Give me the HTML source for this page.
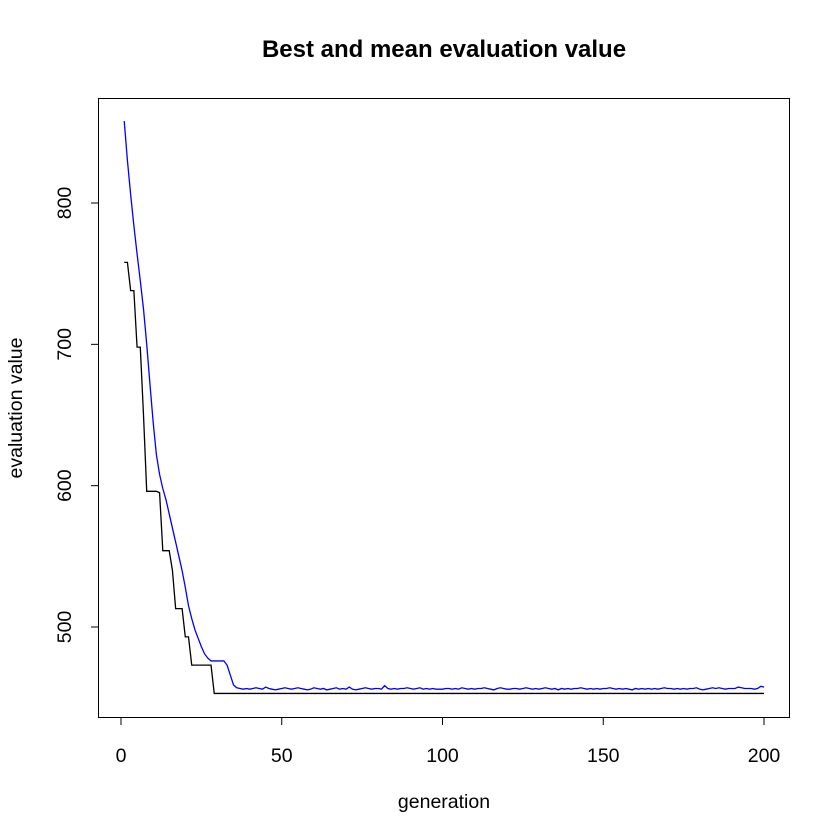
<!DOCTYPE html>
<html><head><meta charset="utf-8"><style>
html,body{margin:0;padding:0;background:#fff;}
svg{display:block;font-family:"Liberation Sans",Arial,sans-serif;}
</style></head><body>
<svg id="chart" width="840" height="840" viewBox="0 0 840 840" xmlns="http://www.w3.org/2000/svg">
<rect width="840" height="840" fill="#fff"/>
<text x="444" y="57" text-anchor="middle" font-size="24" font-weight="bold">Best and mean evaluation value</text>
<rect x="98.5" y="98.5" width="691" height="619" fill="none" stroke="#000" stroke-width="1"/>
<g id="xaxis"></g>
<g id="yaxis"></g>
<text x="444" y="808" text-anchor="middle" font-size="19.5">generation</text>
<text transform="translate(22,408) rotate(-90)" text-anchor="middle" font-size="19.5">evaluation value</text>
<path id="bestLine" fill="none" stroke="#000" stroke-width="1.3"/>
<path id="meanLine" fill="none" stroke="#0000ff" stroke-width="1.3"/>
</svg>
<script>
const xTicks = [0, 50, 100, 150, 200];
const yTicks = [500, 600, 700, 800];
const bestHead = [758,758,738,738,698,698,650,596,596,596,596,595,554,554,554,540,513,513,513,493,493,473,473,473,473,473,473,473];
const bestTailValue = 453;
const meanHead = [858,830,806,784,764,745,725,700,672,645,622,608,598,590,580,570,560,550,540,528,515,506,498,492,486,481,478,476,476,476,476,476,473,466,459];
const meanTail = [457,456.5,456,456.5,456,456.5,457,456.5,456,457.5,456.5,456,455.5,456,456.5,457,456.5,456,456.5,457,456.5,456,455.5,456,457,456.5,456,456.5,455.5,456,456.5,457,456,456.5,456,457.5,456,455.5,456,456.5,457,456.5,456,456.5,456.5,456,458.5,456.5,456,456.5,456,456.5,456.5,457,456.5,456,456.5,457,456,456.5,456,456.5,456,456,456,456.5,456.5,456,456.5,456,457,456.5,456,456.5,456,456.5,456.5,457,456.5,456,455.5,456.5,457,456.5,456,456,456.5,456.5,456,456.5,457,456.5,456,456.5,456,456.5,457,456.5,456,456.5,455.5,456.5,456,456.5,456,456.5,456.5,457,456.5,456,456.5,456,456.5,456,456.5,456.5,457,456.5,456,456.5,456,456.5,456,455.5,456.5,456,456.5,456,456.5,456,456.5,456,456.5,457,456.5,456.5,456,456.5,456,456.5,456,456.5,456.5,457,456,455.5,456,456.5,457,456.5,457,456.5,456,456.5,456.5,456.5,457.5,457,456.5,456.5,456.5,456,456.5,458,457.5,457,457.5,456.5,457,456.5,457];
const nGen = 200;

function xs(g){ return 121 + (g/200)*643; }
function ys(v){ return 627 - (v-500)*1.41333; }

const best = [], mean = [];
for (let i=0;i<nGen;i++){
  best.push(i < bestHead.length ? bestHead[i] : bestTailValue);
  mean.push(i < meanHead.length ? meanHead[i] : meanTail[Math.min(i-meanHead.length, meanTail.length-1)]);
}
function pathFor(arr){ return arr.map((v,i)=>(i?'L':'M')+xs(i+1).toFixed(2)+','+ys(v).toFixed(2)).join(''); }
document.getElementById('bestLine').setAttribute('d', pathFor(best));
document.getElementById('meanLine').setAttribute('d', pathFor(mean));

const NS='http://www.w3.org/2000/svg';
const xa=document.getElementById('xaxis');
const xl=document.createElementNS(NS,'line');


xl.setAttribute('x1',xs(xTicks[0]));xl.setAttribute('x2',xs(xTicks[xTicks.length-1]));xl.setAttribute('y1',717.5);xl.setAttribute('y2',717.5);xl.setAttribute('stroke','#000');
xa.appendChild(xl);
xTicks.forEach(t=>{
  const l=document.createElementNS(NS,'line');
  
  
  l.setAttribute('x1',xs(t));l.setAttribute('x2',xs(t));l.setAttribute('y1',717.5);l.setAttribute('y2',725);l.setAttribute('stroke','#000');
  xa.appendChild(l);
  const tx=document.createElementNS(NS,'text');
  
  
  tx.setAttribute('x',xs(t));tx.setAttribute('y',762);tx.setAttribute('text-anchor','middle');tx.setAttribute('font-size','19.5');
  tx.textContent=t;xa.appendChild(tx);
});
const ya=document.getElementById('yaxis');
const yl=document.createElementNS(NS,'line');


yl.setAttribute('x1',98.5);yl.setAttribute('x2',98.5);yl.setAttribute('y1',ys(yTicks[0]));yl.setAttribute('y2',ys(yTicks[yTicks.length-1]));yl.setAttribute('stroke','#000');
ya.appendChild(yl);
yTicks.forEach(t=>{
  const l=document.createElementNS(NS,'line');
  
  
  l.setAttribute('x1',91);l.setAttribute('x2',98.5);l.setAttribute('y1',ys(t));l.setAttribute('y2',ys(t));l.setAttribute('stroke','#000');
  ya.appendChild(l);
  const tx=document.createElementNS(NS,'text');
  
  
  tx.setAttribute('transform','translate(71,'+ys(t)+') rotate(-90)');tx.setAttribute('text-anchor','middle');tx.setAttribute('font-size','19.5');
  tx.textContent=t;ya.appendChild(tx);
});
</script>
</body></html>
